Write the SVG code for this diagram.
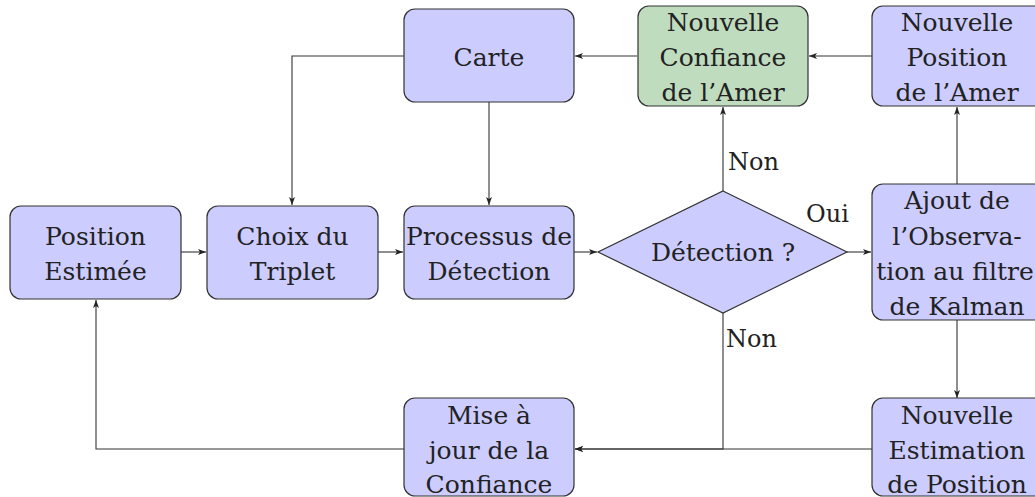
<svg xmlns="http://www.w3.org/2000/svg" width="1035" height="497" viewBox="0 0 1035 497">
<style>
.b{fill:#ccccff;stroke:#333;stroke-width:1.2}
.g{fill:#bfdcbf;stroke:#333;stroke-width:1.2}
.t{font-family:"DejaVu Serif",serif;font-size:25px;fill:#222;text-anchor:middle}
.l{font-family:"DejaVu Serif",serif;font-size:24px;fill:#222}
.c{fill:none;stroke:#333;stroke-width:1.1;marker-end:url(#a)}
</style>
<defs>
<marker id="a" viewBox="0 0 8 6" refX="8" refY="3" markerWidth="8" markerHeight="6" markerUnits="userSpaceOnUse" orient="auto">
<path d="M0,0 L8,3 L0,6 L2,3 Z" fill="#222"/>
</marker>
</defs>
<rect width="1035" height="497" fill="#fff"/>
<g id="connectors">
<path class="c" d="M404,56 H292 V205"/>
<path class="c" d="M489,102 V205"/>
<path class="c" d="M637,56 H575"/>
<path class="c" d="M872,56 H809"/>
<path class="c" d="M723,191 V107"/>
<path class="c" d="M957,184 V107"/>
<path class="c" d="M181,252 H206"/>
<path class="c" d="M378,252 H403"/>
<path class="c" d="M574,252 H597"/>
<path class="c" d="M847,252 H871"/>
<path class="c" d="M957,320 V398"/>
<path class="c" d="M723,313 V449 H575"/>
<path class="c" d="M872,449 H575"/>
<path class="c" d="M404,449 H96 V300"/>
</g>
<g id="position-estimee">
<rect class="b" x="10" y="206" width="171" height="93" rx="11"/>
<text class="t" x="95.5" y="245">Position</text>
<text class="t" x="95.5" y="280">Estimée</text>
</g>
<g id="choix-triplet">
<rect class="b" x="207" y="206" width="171" height="93" rx="11"/>
<text class="t" x="292.5" y="245">Choix du</text>
<text class="t" x="292.5" y="280">Triplet</text>
</g>
<g id="processus">
<rect class="b" x="404" y="206" width="170" height="93" rx="11"/>
<text class="t" x="489" y="245">Processus de</text>
<text class="t" x="489" y="280">Détection</text>
</g>
<g id="carte">
<rect class="b" x="404" y="9" width="170" height="93" rx="11"/>
<text class="t" x="489" y="66">Carte</text>
</g>
<g id="nouvelle-confiance">
<rect class="g" x="638" y="6" width="170" height="100" rx="11"/>
<text class="t" x="723" y="31">Nouvelle</text>
<text class="t" x="723" y="66">Confiance</text>
<text class="t" x="723" y="101">de l’Amer</text>
</g>
<g id="nouvelle-position">
<rect class="b" x="872" y="6" width="175" height="100" rx="11"/>
<text class="t" x="957" y="31">Nouvelle</text>
<text class="t" x="957" y="66">Position</text>
<text class="t" x="957" y="101">de l’Amer</text>
</g>
<g id="detection">
<polygon class="b" points="723,191 847,252 723,313 598,252"/>
<text class="t" x="723" y="261">Détection ?</text>
</g>
<g id="ajout">
<rect class="b" x="872" y="184" width="175" height="136" rx="11"/>
<text class="t" x="957" y="209">Ajout de</text>
<text class="t" x="957" y="245">l’Observa-</text>
<text class="t" x="955" y="280">tion au filtre</text>
<text class="t" x="957" y="315">de Kalman</text>
</g>
<g id="nouvelle-estimation">
<rect class="b" x="872" y="398" width="175" height="98" rx="11"/>
<text class="t" x="957" y="424">Nouvelle</text>
<text class="t" x="957" y="459">Estimation</text>
<text class="t" x="957" y="493">de Position</text>
</g>
<g id="mise-a-jour">
<rect class="b" x="404" y="398" width="170" height="98" rx="11"/>
<text class="t" x="489" y="424">Mise à</text>
<text class="t" x="489" y="459">jour de la</text>
<text class="t" x="489" y="493">Confiance</text>
</g>
<g id="labels">
<text class="l" x="728" y="170">Non</text>
<text class="l" x="806" y="222">Oui</text>
<text class="l" x="726" y="347">Non</text>
</g>
</svg>
